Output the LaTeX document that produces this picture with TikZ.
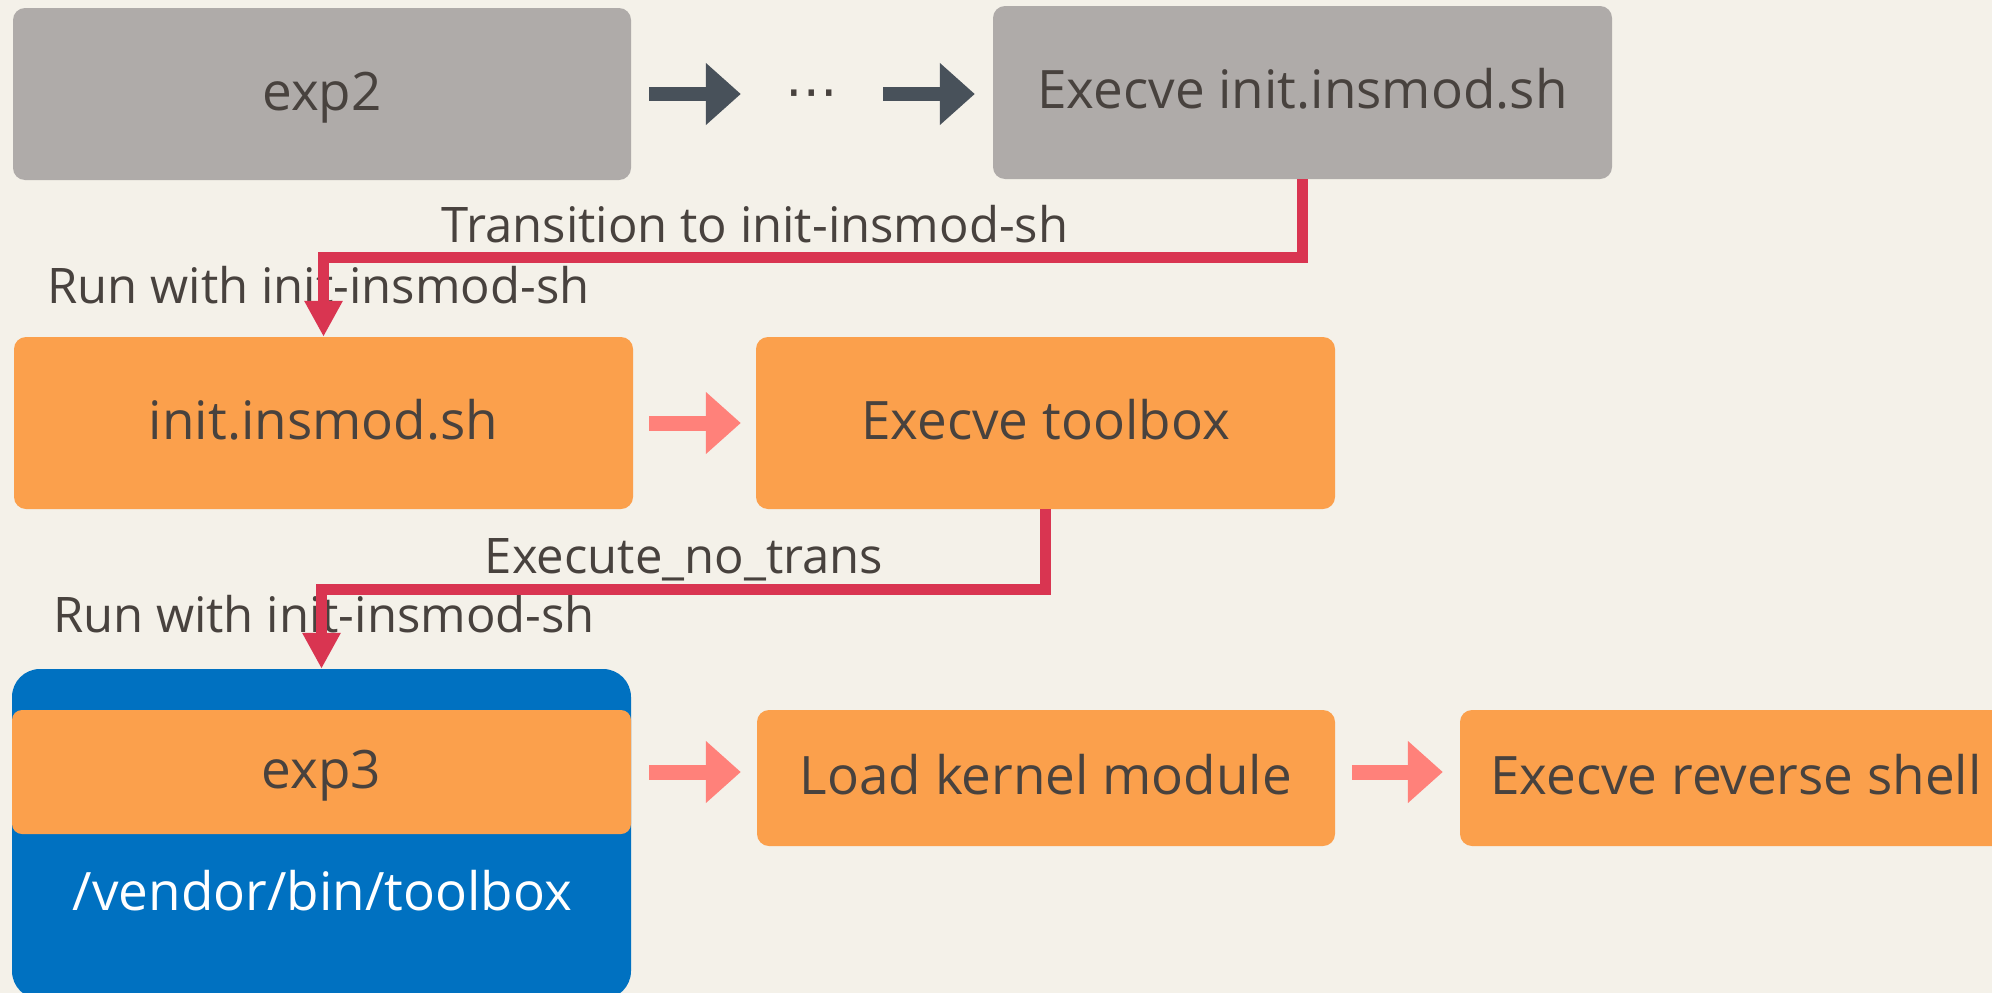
\documentclass[tikz,border=0pt]{standalone}
\usepackage{fontspec}
\setmainfont{Open Sans}
\newfontfamily\symfont{DejaVu Sans}
\usetikzlibrary{arrows.meta}
\definecolor{bg}{HTML}{F4F1E9}
\definecolor{graybox}{HTML}{AFABA9}
\definecolor{txt}{HTML}{48423E}
\definecolor{orangebox}{HTML}{FBA04C}
\definecolor{bluebox}{HTML}{0071C1}
\definecolor{redline}{HTML}{D93551}
\definecolor{pinkarrow}{HTML}{FF817A}
\definecolor{darkarrow}{HTML}{48515A}
\begin{document}
\begin{tikzpicture}[x=1pt,y=-1pt,
  boxfont/.style={font=\fontsize{53}{62}\selectfont},
  lblfont/.style={font=\fontsize{49}{58}\selectfont},
  box/.style={boxfont, rounded corners=12pt, inner sep=0pt, text=txt,
    text height=36pt, text depth=4pt},
  graystep/.style={box, fill=graybox},
  orangestep/.style={box, fill=orangebox},
  lbl/.style={lblfont, text=txt, inner sep=0pt, anchor=base},
  darkflow/.style={draw=darkarrow, line width=14pt, -{Triangle[length=35pt,width=60pt]}, darkarrow},
  pinkflow/.style={draw=pinkarrow, line width=15pt, -{Triangle[length=35pt,width=60pt]}, pinkarrow},
  redflow/.style={draw=redline, line width=11pt, -{Triangle[length=36pt,width=36pt]}, redline}
]
\useasboundingbox (0,0) rectangle (1992,993);
\fill[bg] (0,0) rectangle (1992,993);
\clip (0,0) rectangle (1992,993);

% row 1
\node[graystep, minimum width=618pt, minimum height=172pt] (exp2) at (322,94) {exp2};
\node[graystep, minimum width=619pt, minimum height=173pt] (execA) at (1302.5,92.5) {Execve init.insmod.sh};
\node[font=\symfont\fontsize{52.5}{60}\selectfont, text=txt, inner sep=0pt,
      minimum width=142pt, anchor=base] (dots) at (812,109) {⋯};

% row 2
\node[orangestep, minimum width=619pt, minimum height=172pt] (init) at (323.5,423) {init.insmod.sh};
\node[orangestep, minimum width=579pt, minimum height=172pt] (tool) at (1045.5,423) {Execve toolbox};

% row 3
\node[fill=bluebox, rounded corners=28pt, inner sep=0pt, minimum width=619pt, minimum height=330pt] (blue) at (321.5,834) {};
\node[orangestep, rounded corners=10pt, minimum width=619pt, minimum height=124pt] (exp3) at (321.5,772) {exp3};
\node[boxfont, text=white, inner sep=0pt, anchor=base] (vendor) at (322.5,910) {/vendor/bin/toolbox};
\node[orangestep, minimum width=578pt, minimum height=136pt] (load) at (1046,778) {Load kernel module};
\node[orangestep, minimum width=552pt, minimum height=136pt] (rev) at (1736,778) {Execve reverse shell};

% labels
\node[lbl] (ltrans) at (755,242) {Transition to init-insmod-sh};
\node[lbl] (lrun1) at (318.5,303) {Run with init-insmod-sh};
\node[lbl] (lexec) at (684,573) {Execute\_no\_trans};
\node[lbl] (lrun2) at (324,632) {Run with init-insmod-sh};

% block arrows
\draw[darkflow, shorten <=18pt] (exp2.east) -- (exp2.east -| dots.west);
\draw[darkflow, shorten >=18pt] (exp2.east -| dots.east) -- (exp2.east -| execA.west);
\draw[pinkflow, shorten <=16pt, shorten >=15pt] (init.east) -- (init.east -| tool.west);
\draw[pinkflow, shorten <=18pt, shorten >=16pt] (exp3.east) -- (exp3.east -| load.west);
\draw[pinkflow, shorten <=17pt, shorten >=17pt] (exp3.east -| load.east) -- (exp3.east -| rev.west);

% red connectors
\draw[redflow] (execA.south) -- ++(0,78.5) -| (init.north);
\draw[redflow] (tool.south) -- ++(0,80) -| (blue.north);
\end{tikzpicture}
\end{document}
